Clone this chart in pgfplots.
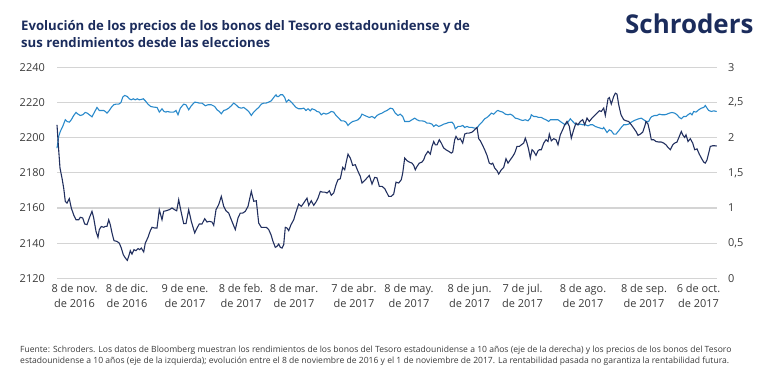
\documentclass[border=0pt]{standalone}
\usepackage{pgfplots}
\pgfplotsset{compat=1.18}
\usepackage{fontspec}
\setmainfont{Open Sans}
\definecolor{navy}{HTML}{22305F}
\definecolor{titlenavy}{HTML}{1B2C5C}
\definecolor{lightblue}{HTML}{2A8ACB}
\definecolor{gridgray}{HTML}{D4D4D4}
\definecolor{txtgray}{HTML}{3A3A3A}
\begin{document}
\begin{tikzpicture}[x=1bp,y=1bp]
\useasboundingbox (0,0) rectangle (770,380);
% titles
\node[anchor=base west, inner sep=0pt, text=titlenavy, font=\fontsize{13.2}{16}\selectfont\bfseries] at (21,350) {Evolución de los precios de los bonos del Tesoro estadounidense y de};
\node[anchor=base west, inner sep=0pt, text=titlenavy, font=\fontsize{13.2}{16}\selectfont\bfseries] at (21,333) {sus rendimientos desde las elecciones};
\node[anchor=base west, inner sep=0pt, text=titlenavy, font=\fontsize{26}{28}\selectfont\bfseries] at (625,347) {Schroders};
% footnote
\node[anchor=base west, inner sep=0pt, text=txtgray, font=\fontsize{8.6}{10}\selectfont] at (20,28) {Fuente: Schroders. Los datos de Bloomberg muestran los rendimientos de los bonos del Tesoro estadounidense a 10 años (eje de la derecha) y los precios de los bonos del Tesoro};
\node[anchor=base west, inner sep=0pt, text=txtgray, font=\fontsize{8.6}{10}\selectfont] at (20,17) {estadounidense a 10 años (eje de la izquierda); evolución entre el 8 de noviembre de 2016 y el 1 de noviembre de 2017. La rentabilidad pasada no garantiza la rentabilidad futura.};
% right axis (yield) with grid
\begin{axis}[
  at={(57bp,101.7bp)}, anchor=south west,
  scale only axis, width=660bp, height=211bp,
  xmin=0, xmax=660, ymin=0, ymax=3,
  axis x line=none,
  axis y line*=right,
  y axis line style={draw=none},
  ytick={0,0.5,1,1.5,2,2.5,3},
  major tick length=0pt,
  ymajorgrids, grid style={gridgray, line width=1.1bp},
  yticklabel style={/pgf/number format/use comma, /pgf/number format/assume math mode=true, font=\fontsize{11}{13}\selectfont, text=txtgray, inner sep=0pt, anchor=west, xshift=11bp},
  clip=false,
]
\addplot[lightblue, line width=1.1bp] table {
0 1.851
1.7 2.017
3.3 2.088
5.7 2.159
8.3 2.254
10 2.230
12.3 2.220
14.3 2.254
16.7 2.315
19 2.358
21 2.334
23.3 2.315
25.7 2.325
28.3 2.358
30.3 2.348
32.3 2.325
35 2.296
37.3 2.358
40 2.429
42.3 2.386
44.3 2.386
46.7 2.386
48.3 2.372
50 2.348
52.3 2.386
54.3 2.429
56.7 2.467
59 2.476
61.7 2.476
64 2.5
65.7 2.576
67.7 2.600
70.3 2.585
72.3 2.552
74.3 2.538
76.3 2.552
78.3 2.538
80.3 2.552
82.3 2.538
84.3 2.543
86.3 2.552
88.3 2.524
91 2.476
93.7 2.443
96.7 2.434
100 2.429
102.3 2.363
105 2.410
107 2.372
109 2.363
110 2.372
113.3 2.363
116.7 2.363
119 2.386
121 2.325
123.3 2.419
126.7 2.476
129 2.467
131.7 2.396
134.3 2.453
137.7 2.505
140 2.5
142.3 2.491
145 2.491
148.3 2.453
151 2.467
154.3 2.467
157.7 2.443
160 2.396
162.3 2.372
164.3 2.339
166.7 2.386
169 2.396
171.7 2.419
174.3 2.453
176.7 2.491
179 2.467
181.7 2.429
184.3 2.419
186.7 2.429
189 2.405
191.7 2.372
194.3 2.315
196.7 2.363
199 2.396
201.7 2.429
204.3 2.476
206.7 2.491
209 2.491
211.7 2.505
214.3 2.524
216.7 2.571
219 2.609
220 2.585
221.7 2.585
223.3 2.609
225.7 2.609
227.7 2.571
229.3 2.505
231.7 2.538
234.3 2.505
236.7 2.467
239 2.429
241.7 2.410
244.3 2.410
246.7 2.419
249 2.386
251 2.410
253.3 2.381
255 2.410
257.7 2.396
260 2.372
262.3 2.363
264.3 2.325
266.7 2.348
269 2.334
271.7 2.348
274.3 2.372
276.7 2.363
279 2.315
281.7 2.277
284.3 2.239
286.7 2.239
289 2.220
291 2.173
293.3 2.206
295.7 2.230
298.3 2.239
301 2.254
303.3 2.287
305 2.334
307.7 2.315
310 2.301
312.3 2.287
315 2.301
317.7 2.277
320 2.315
322.3 2.334
325 2.348
327.7 2.372
330 2.386
333.3 2.419
335.7 2.410
338.3 2.348
341 2.315
343.3 2.334
345.7 2.301
347.7 2.230
350 2.230
352.3 2.230
355 2.254
357.7 2.277
360 2.254
362.3 2.239
365 2.239
367.7 2.230
370 2.206
372.3 2.206
375 2.192
376.7 2.159
379 2.183
381.7 2.159
384.3 2.173
386.7 2.192
389 2.201
391.7 2.216
395 2.220
396.7 2.192
398.3 2.126
401 2.159
403.3 2.159
405.7 2.173
407.7 2.145
410 2.159
412.3 2.145
415 2.145
417.7 2.135
420 2.135
422.3 2.183
425 2.220
427.7 2.268
430 2.287
432.3 2.315
434.3 2.348
436.7 2.334
440 2.381
441 2.386
443.3 2.372
445.7 2.363
448.3 2.334
451 2.325
453.3 2.334
455.7 2.315
458.3 2.277
461 2.268
463.3 2.254
465.7 2.244
468.3 2.254
471 2.239
473.3 2.277
474.3 2.325
476.7 2.301
479 2.301
481.7 2.287
484.3 2.287
486.7 2.268
489 2.254
491.7 2.230
493.3 2.254
495.7 2.254
498.3 2.254
501 2.254
503.3 2.230
505.7 2.206
508.3 2.183
511 2.220
513.3 2.268
515.7 2.230
518.3 2.192
521 2.183
523.3 2.192
525.7 2.183
528.3 2.183
531 2.168
533.3 2.183
535.7 2.183
538.3 2.159
541 2.145
543.3 2.135
545.7 2.126
546.7 2.145
548.3 2.111
550 2.073
552.3 2.111
554.3 2.097
556.7 2.050
559 2.050
561.7 2.097
564.3 2.145
566.7 2.183
569 2.183
571.7 2.192
574.3 2.220
576.7 2.239
579 2.254
581.7 2.268
584.3 2.277
586.7 2.254
589 2.230
591.7 2.230
593.3 2.277
595 2.301
597.7 2.315
600 2.315
602.3 2.334
605 2.325
607.7 2.325
610 2.334
612.3 2.348
615 2.358
617.7 2.348
620 2.325
622.3 2.287
624.3 2.268
626.7 2.301
629 2.301
631 2.325
633.3 2.348
635 2.325
636.7 2.372
639 2.363
641.7 2.396
644.3 2.419
646.7 2.429
648.3 2.457
650 2.419
651.7 2.386
654.3 2.372
656.7 2.381
659.7 2.372
};
\end{axis}
% left axis (price)
\begin{axis}[
  at={(57bp,101.7bp)}, anchor=south west,
  scale only axis, width=660bp, height=211bp,
  xmin=0, xmax=660, ymin=2120, ymax=2240,
  axis line style={draw=none},
  axis y line*=left, axis x line*=bottom,
  ytick={2120,2140,...,2240},
  major tick length=0pt,
  xtick={17.5,70,128,184,237,297,352,412.5,465.5,526,587,641.5},
  xticklabels={{8 de nov.\\de 2016},{8 de dic.\\de 2016},{9 de ene.\\de 2017},{8 de feb.\\de 2017},{8 de mar.\\de 2017},{7 de abr.\\de 2017},{8 de may.\\de 2017},{8 de jun.\\de 2017},{7 de jul.\\de 2017},{8 de ago.\\de 2017},{8 de sep.\\de 2017},{6 de oct.\\de 2017}},
  xticklabel style={align=center, font=\fontsize{11}{15}\selectfont, text=txtgray, inner sep=0pt, anchor=north, yshift=-6bp},
  yticklabel style={/pgf/number format/1000 sep={}, /pgf/number format/assume math mode=true, font=\fontsize{11}{13}\selectfont, text=txtgray, inner sep=0pt, anchor=east, xshift=-12bp},
  clip=false,
]
\addplot[navy, line width=1.1bp] table {
0 2207.3
1.3 2196
3 2182.7
5 2177
6.7 2171.3
8.3 2163.7
10 2162.8
12.3 2165.3
14.3 2160
16.7 2156
19 2153.3
21.7 2153.3
23.3 2154.7
25.7 2154.3
27.7 2150.9
30 2150.5
32.3 2154.3
35 2158.1
36.7 2154.3
39 2146.7
41 2143.3
42.3 2147.7
44.3 2149.5
46.7 2149
48.3 2149.5
50 2149.5
51.7 2153.3
53.3 2150.5
55 2145.8
57 2141.4
60 2141
62.3 2140
64.3 2137.2
66.3 2133.4
68.3 2131.6
70.3 2130.2
71.7 2132.5
73.3 2135.7
75 2133.8
77 2136.3
79 2135.7
81 2136.9
82.7 2136.3
84.3 2137.2
86.7 2135
88.3 2140
91 2143.3
93.3 2147.1
95 2149
97.7 2148.6
100 2148.6
102.3 2159
105 2153.3
106.7 2158.1
109 2158.4
112.3 2159
115 2160
117.7 2159
119.7 2158.4
121.7 2164.7
124 2158.1
126.7 2151.1
129 2151.1
131.7 2159
134.3 2152.4
137.7 2145.8
140 2148.6
142.3 2150.9
145 2150.9
147.7 2153.9
150 2152
152.3 2152.4
155 2152
156.7 2150.1
159 2159
161.7 2161.9
164.3 2166.6
166.7 2160.9
169 2158.4
171.7 2157.1
174.3 2153.3
178.3 2147.7
181 2154.3
183.3 2157.1
185.7 2157.1
188.3 2158.1
191 2160.9
194.3 2169.4
196.7 2163.8
199.3 2164.1
201.7 2151.4
204.3 2149
206.7 2149
209.3 2149
211.7 2147.7
214 2144.8
216 2141
218.3 2137.6
220 2138.2
221.7 2139.5
223.3 2137.6
225 2137.2
226.7 2139.1
228.3 2149
230 2148.6
231.7 2147.1
234 2150.5
236.7 2153.3
239 2157.7
241.7 2162.2
244.3 2160.9
246.7 2162.8
250 2165.6
251.7 2161.5
254.3 2164.1
256.7 2161.5
259 2163.4
261 2165.6
263.3 2169.4
265.7 2169
267.7 2169
270 2168.5
272.3 2169.8
274.3 2167.2
276.7 2168.5
279 2173.2
281 2176.1
283.3 2176.6
285.7 2183.1
287.7 2181.7
289 2185.5
291 2190.6
293.3 2188.4
295.7 2184.2
298.3 2184.6
301 2180.8
303.3 2178
305 2174.2
307.7 2175.6
310 2177.1
312.3 2178.5
315 2173.6
317.7 2177.4
320 2177.1
322.3 2172.3
325 2172.3
327.7 2171
330 2168.5
331.7 2166.6
334.3 2166.6
336.7 2167.9
339 2174.7
341.7 2174.2
344.3 2176.1
345.7 2179.8
347.7 2188.4
350 2186.9
352.3 2186.1
355 2185.5
356.7 2184.2
358.3 2181.7
360 2183.6
362.3 2185.5
365 2186.1
366.7 2187.4
368.3 2189.9
371 2192.2
373.3 2190.6
375 2195
376.7 2197.8
378.3 2195.9
380 2195.9
382.3 2198.8
384.3 2196.9
386.7 2194.1
389 2193.1
391.7 2192.2
394.3 2191.2
395.7 2191.8
397.7 2198.8
399 2200.7
401 2198.8
403.3 2199.4
405.7 2196.9
407.7 2202
410 2202.6
412.3 2202.6
415 2203.1
417.7 2204.5
420 2205.8
421.7 2199.4
423.3 2198.2
425 2196.3
427.7 2193.1
430 2189.9
432.3 2185.5
434.3 2184.9
435.7 2185.5
437.7 2182.7
440 2181.2
441.7 2179.3
444.3 2181.7
446.7 2183.1
449 2188
451 2185.5
453.3 2187.4
455.7 2189.3
457.7 2191.2
460 2195
462.3 2195
464.3 2195.9
466.7 2196.9
468.3 2199.7
470 2196.9
471.7 2193.1
473.3 2188.4
475 2193.1
476.7 2192.2
479 2189.9
481 2192.5
482.3 2193.1
484.3 2193.1
486.7 2196.9
489 2198.8
491 2197.8
492.3 2202
494.3 2198.2
496.7 2199.4
499 2198.8
501 2195.9
503.3 2201.6
505.7 2204.5
507.7 2207.3
510 2209.2
512.3 2206.4
514.3 2199.7
516.7 2204.5
519 2208.3
521 2207.3
523.3 2209.2
525.7 2210.2
527.7 2207.3
530 2211.1
532.3 2209.2
535 2211.1
537.7 2212.6
540 2213.9
542.3 2215.3
544.3 2214.9
546.7 2216.8
548.3 2212.6
551 2222.1
552.3 2222.8
554.3 2219.1
556.7 2223.4
558.3 2225.3
560 2224.7
561.7 2218.7
564 2213
566.7 2210.2
569 2209.6
571.7 2209.2
574.3 2207.3
576.7 2205.4
579 2203.5
581 2201.3
583.3 2202
585.7 2203.1
587.7 2206.4
589 2209.2
591 2207.7
592.7 2203.5
594.3 2198.8
596.7 2198.8
599 2197.8
601.7 2197.5
604.3 2197.5
606.7 2196.9
609 2195.9
611 2194.4
613.3 2193.1
615.7 2195.9
617.7 2196.9
620 2197.5
622.3 2200.7
624.3 2203.5
625.7 2201.6
627.7 2200.1
629 2201.6
631 2197.8
633.3 2199.4
635.7 2196.9
637.7 2193.1
640 2193.6
642.3 2190.6
644.3 2188.4
646.7 2186.1
648.3 2185.5
650 2187.4
651.7 2191.2
653.3 2195
655.7 2195.4
657.7 2195.4
659.7 2195.2
};
\end{axis}
\end{tikzpicture}
\end{document}
